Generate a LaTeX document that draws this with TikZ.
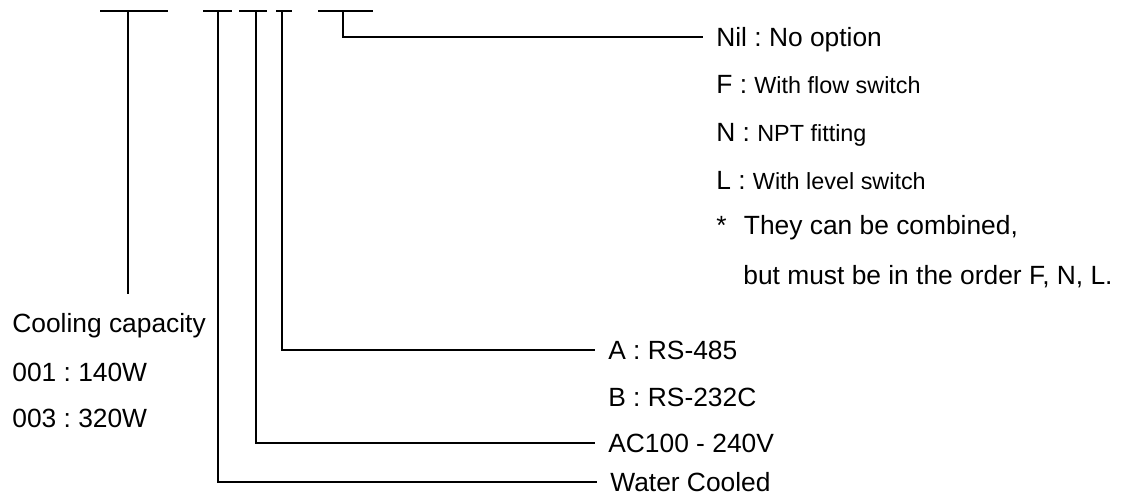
\documentclass[tikz,border=0pt]{standalone}
\usepackage{fontspec}
\setmainfont{Liberation Sans}
\usepackage{tikz}
\usetikzlibrary{positioning}

\newcommand{\opt}[1]{{\fontsize{13.3pt}{16pt}\selectfont #1}}
\frenchspacing

\begin{document}
\begin{tikzpicture}[
    lbl/.style={anchor=west, inner xsep=0.26cm, inner ysep=0pt, text height=0.38cm, text depth=0pt, font=\fontsize{15pt}{18pt}\selectfont},
    bar/.style={line width=1.1pt}
]
    \useasboundingbox (0,0) rectangle (22.46,-9.98);
    % Coordinates
    \coordinate (cap) at (2.56,-0.22);
    \coordinate (capend) at (2.56,-5.88);
    \coordinate (cool) at (4.36,-0.22);
    \coordinate (volt) at (5.12,-0.22);
    \coordinate (comm) at (5.64,-0.22);
    \coordinate (opts) at (6.86,-0.22);
    % Nodes
    \node[lbl, inner xsep=0pt] (capacity) at (0.24,-6.46) {Cooling capacity};
    \node[lbl, inner xsep=0pt] (cap1) at (0.24,-7.44) {001 : 140W};
    \node[lbl, inner xsep=0pt] (cap3) at (0.24,-8.36) {003 : 320W};
    \node[lbl] (water) at (11.94,-9.64) {Water Cooled};
    \node[lbl] (ac) at (11.90,-8.86) {AC100 - 240V};
    \node[lbl] (rsa) at (11.90,-7.00) {A : RS-485};
    \node[lbl] (rsb) at (11.90,-7.94) {B : RS-232C};
    \node[lbl] (nil) at (14.06,-0.74) {Nil : No option};
    \node[lbl] (flow) at (14.06,-1.68) {F : \opt{With flow switch}};
    \node[lbl] (npt) at (14.06,-2.64) {N : \opt{NPT fitting}};
    \node[lbl] (level) at (14.06,-3.60) {L : \opt{With level switch}};
    \node[lbl] (note) at (14.06,-4.50) {*\hspace{0.2cm} They can be combined,};
    \node[lbl] (order) at (14.60,-5.50) {but must be in the order F, N, L.};
    % Bars
    \draw[bar] (2.00,-0.22) -- (3.36,-0.22);
    \draw[bar] (4.06,-0.22) -- (4.64,-0.22);
    \draw[bar] (4.78,-0.22) -- (5.34,-0.22);
    \draw[bar] (5.52,-0.22) -- (5.84,-0.22);
    \draw[bar] (6.36,-0.22) -- (7.46,-0.22);
    % Leaders
    \draw[bar] (cap) -- (capend);
    \draw[bar] (cool) |- (water.west);
    \draw[bar] (volt) |- (ac.west);
    \draw[bar] (comm) |- (rsa.west);
    \draw[bar] (opts) |- (nil.west);
\end{tikzpicture}
\end{document}
